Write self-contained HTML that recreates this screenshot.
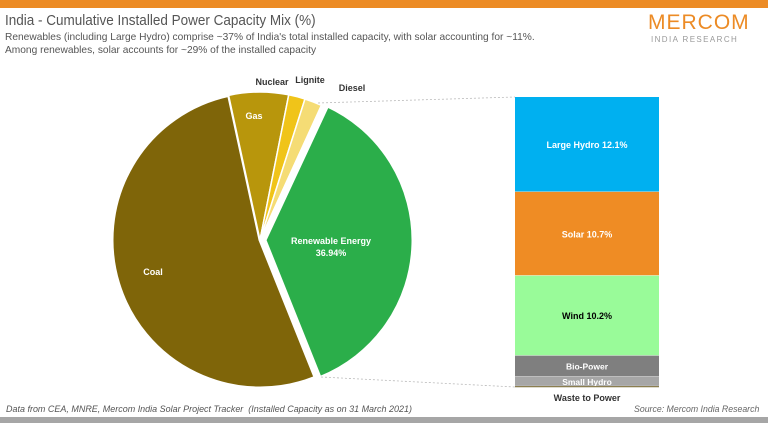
<!DOCTYPE html>
<html><head><meta charset="utf-8"><style>
body{margin:0;width:768px;height:423px;overflow:hidden;background:#fff;font-family:"Liberation Sans",sans-serif;position:relative}
.t{position:absolute;white-space:nowrap;transform-origin:left top}
</style></head><body>
<div style="position:absolute;left:0;top:0;width:768px;height:8px;background:#ec8b25"></div>
<div class="t" style="left:5px;top:12px;font-size:15px;color:#555;transform:scaleX(0.9)">India - Cumulative Installed Power Capacity Mix (%)</div>
<div class="t" style="left:5px;top:32px;font-size:10.4px;color:#555;transform:scaleX(0.98)">Renewables (including Large Hydro) comprise ~37% of India's total installed capacity, with solar accounting for ~11%.</div>
<div class="t" style="left:5px;top:45px;font-size:10.4px;color:#555;transform:scaleX(0.98)">Among renewables, solar accounts for ~29% of the installed capacity</div>
<div class="t" style="left:648px;top:11px;font-size:21px;color:#ec8b25;letter-spacing:1px">MERCOM</div>
<div class="t" style="left:651px;top:35px;font-size:8px;color:#999;letter-spacing:1.4px">INDIA RESEARCH</div>
<svg id="c" width="768" height="423" style="position:absolute;left:0;top:0"></svg>
<div class="t" style="left:6px;top:404px;font-size:9.5px;font-style:italic;color:#555;transform:scaleX(0.945)">Data from CEA, MNRE, Mercom India Solar Project Tracker&nbsp; (Installed Capacity as on 31 March 2021)</div>
<div class="t" style="left:634px;top:404px;font-size:9.5px;font-style:italic;color:#666;transform:scaleX(0.92)">Source: Mercom India Research</div>
<div style="position:absolute;left:0;top:417px;width:768px;height:6px;background:#a6a6a6"></div>
<script>
const pieNames=["Renewable Energy","Coal","Gas","Nuclear","Lignite","Diesel"];
const pieValues=[36.94,52.6,6.5,1.8,1.9,0.13];
const pieColors=["#2bae4a","#7f6509","#b8960c","#f0c419","#f5dc75","#c59a1a"];
const barNames=["Large Hydro","Solar","Wind","Bio-Power","Small Hydro","Waste to Power"];
const barValues=[12.1,10.7,10.2,2.7,1.2,0.1];
const barColors=["#00b0f0","#ef8c24","#99fb99","#7f7f7f","#a6a6a6","#6b5a20"];
const NS="http://www.w3.org/2000/svg",svg=document.getElementById('c');
function mk(t,a){const e=document.createElementNS(NS,t);for(const k in a)e.setAttribute(k,a[k]);svg.appendChild(e);return e;}
const cx=260,cy=240,r=148,start=25;
const tot=pieValues.reduce((a,b)=>a+b,0);
function pt(x,y,deg,rr){const a=deg*Math.PI/180;return [x+rr*Math.sin(a),y-rr*Math.cos(a)];}
let ang=start;
pieValues.forEach((v,i)=>{
  const sw=v/tot*360,mid=ang+sw/2;
  const off=i===0?5:0;const [ox,oy]=pt(cx,cy,mid,off);
  const [x1,y1]=pt(ox,oy,ang,r),[x2,y2]=pt(ox,oy,ang+sw,r);
  const p=mk('path',{d:`M${ox},${oy}L${x1},${y1}A${r},${r} 0 ${sw>180?1:0} 1 ${x2},${y2}Z`,fill:pieColors[i],stroke:'#fff','stroke-width':i===1||i===0?3:1.5});
  
  
  ang+=sw;
});
function lab(x,y,txt,col,name){const t=mk('text',{x:x,y:y,'font-size':9,'font-weight':'bold',fill:col,'text-anchor':'middle','font-family':'Liberation Sans, sans-serif'});t.textContent=txt;

return t;}
lab(331,244,pieNames[0],'#fff','label-renewable');
lab(331,256,pieValues[0].toFixed(2)+'%','#fff','label-renewable-value');
lab(153,275,pieNames[1],'#fff','label-coal');
lab(254,119,pieNames[2],'#fff','label-gas');
lab(272,85,pieNames[3],'#333','label-nuclear');
lab(310,83,pieNames[4],'#333','label-lignite');
lab(352,91,pieNames[5],'#333','label-diesel');
const bx=515,bw=144,by=97,bh=290;
const btot=barValues.reduce((a,b)=>a+b,0);
const sc=v=>v/btot*bh;
let y=by;
barValues.forEach((v,i)=>{
  const h=sc(v);
  const rc=mk('rect',{x:bx,y:y,width:bw,height:Math.max(h,1),fill:barColors[i]});
  
  
  if(i<5){mk('line',{x1:bx,x2:bx+bw,y1:y+h,y2:y+h,stroke:'#fff','stroke-width':0.8});}
  let txt=i<3?barNames[i]+' '+v+'%':barNames[i];
  if(i<5) lab(bx+bw/2,y+h/2+3.5,txt,i===2?'#000':'#fff','bar-label-'+i).setAttribute('font-size',i>=3?8.5:9);
  else lab(bx+bw/2,y+h+14,txt,'#333','bar-label-'+i);
  y+=h;
});
mk('line',{x1:318,y1:103,x2:bx,y2:by,stroke:'#bbb','stroke-dasharray':'2,2','stroke-width':0.8});
mk('line',{x1:321,y1:377,x2:bx,y2:by+bh,stroke:'#bbb','stroke-dasharray':'2,2','stroke-width':0.8});
</script>
</body></html>
